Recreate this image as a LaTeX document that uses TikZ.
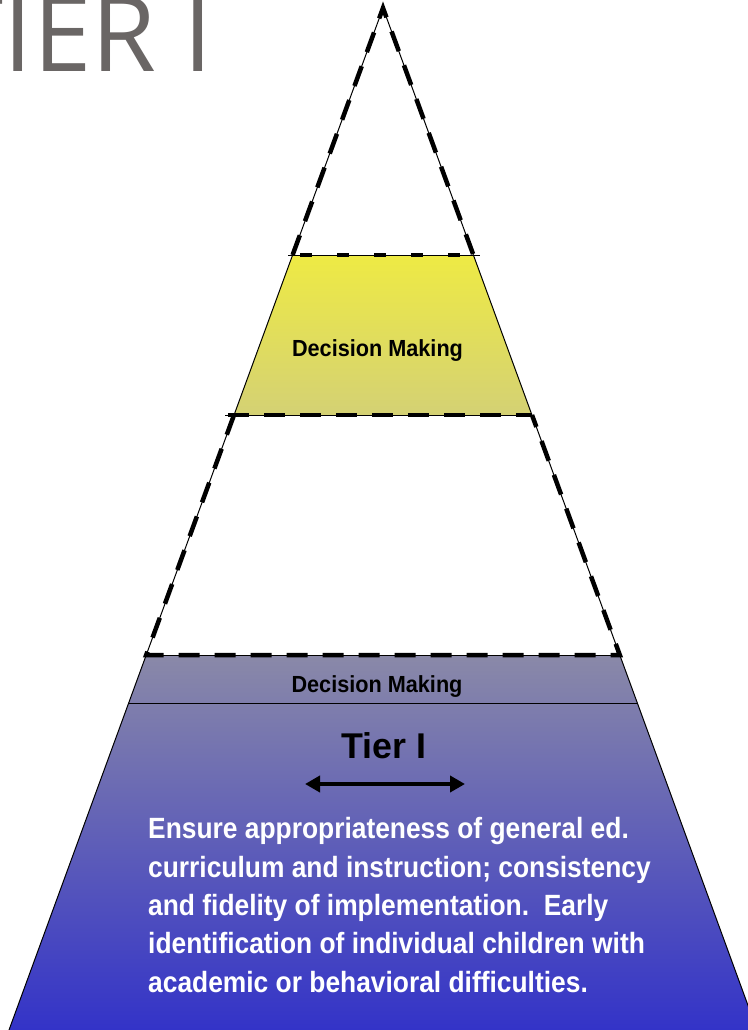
\documentclass[tikz,border=0pt]{standalone}
\usepackage{fontspec}
\setmainfont{Liberation Sans}
\newfontfamily\titlefont{Open Sans}
\newfontfamily\narrowfont[FakeStretch=0.93]{Liberation Sans}
\newfontfamily\bodyfont[FakeStretch=0.9]{Liberation Sans}
\usetikzlibrary{arrows.meta}
\definecolor{titlegray}{HTML}{6A6665}
\definecolor{yeltop}{HTML}{EEEA44}
\definecolor{yelbot}{HTML}{D4D174}
\definecolor{bluetop}{HTML}{8A89A8}
\definecolor{bluemid}{HTML}{5C5CC0}
\definecolor{bluebot}{HTML}{3333C8}

\begin{document}
\begin{tikzpicture}[x=1pt,y=-1pt,
		thinline/.style={line width=1pt},
		dashline/.style={line width=4.5pt, dash pattern=on 21pt off 15pt},
		bandlabel/.style={inner sep=0pt, anchor=base,
			font=\narrowfont\bfseries\fontsize{23.3}{28}\selectfont}]
		\useasboundingbox (0,0) rectangle (747,1030);

		% title
		\node[inner sep=0pt, anchor=base west, text=titlegray,
			font=\titlefont\fontsize{105}{105}\selectfont] (title) at (-54.5,72) {TIER I};

		% corners of the pyramid
		\coordinate (apex) at (383,8);
		\coordinate (yelL) at (292.6,255);
		\coordinate (yelR) at (473.4,255);
		\coordinate (midL) at (234,415);
		\coordinate (midR) at (532,415);
		\coordinate (lowL) at (146.2,655);
		\coordinate (lowR) at (619.8,655);
		\coordinate (dmL) at (128.6,703);
		\coordinate (dmR) at (637.4,703);
		\coordinate (botL) at (9,1030);
		\coordinate (botR) at (757,1030);

		% fills
		\shade[top color=yeltop, bottom color=yelbot] (yelL) -- (yelR) -- (midR) -- (midL) -- cycle;
		\shade[top color=bluetop, middle color=bluemid, bottom color=bluebot] (lowL) -- (lowR) -- (botR) -- (botL) -- cycle;

		% thin outline
		\draw[thinline] (apex) -- (botL);
		\draw[thinline] (apex) -- (botR);
		\draw[thinline] (288,255) -- (480,255);
		\draw[thinline] (225,415) -- (midR);
		\draw[thinline] (lowL) -- (lowR);
		\draw[thinline] (dmL) -- (dmR);

		% dashed parts
		\draw[dashline] (yelL) -- (apex) -- (yelR);
		\draw[dashline, dash pattern=on 12pt off 25pt] (300,255) -- (yelR);
		\draw[dashline] (228,415) -- (midR);
		\draw[dashline] (midL) -- (lowL) -- (lowR) -- (midR);

		% labels
		\node[bandlabel] (dmTop) at (377.5,356) {Decision Making};
		\node[bandlabel] (dmBot) at (377,692) {Decision Making};
		\node[inner sep=0pt, anchor=base,
			font=\bfseries\fontsize{35.8}{40}\selectfont] (tierOne) at (384,758) {Tier I};

		\coordinate (arrL) at (305,784);
		\coordinate (arrR) at (465,784);
		\draw[line width=4pt, {Triangle[length=15pt,width=16pt]}-{Triangle[length=15pt,width=16pt]}] (arrL) -- (arrR);

		\node[inner sep=0pt, anchor=base west, align=left, text=white,
			font=\bodyfont\bfseries\fontsize{29.3}{38.3}\selectfont] (tierText) at (148,992)
			{Ensure appropriateness of general ed.\\
			curriculum and instruction; consistency\\
			and fidelity of implementation.\ \ Early\\
			identification of individual children with\\
			academic or behavioral difficulties.};

	\end{tikzpicture}
\end{document}
